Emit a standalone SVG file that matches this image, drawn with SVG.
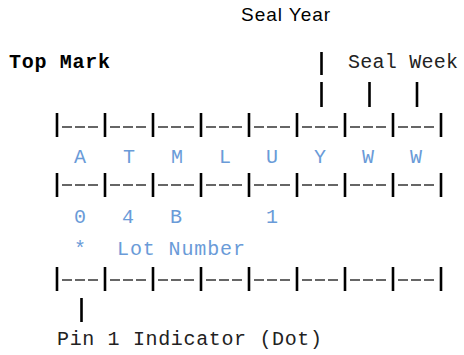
<svg xmlns="http://www.w3.org/2000/svg" width="464" height="355" viewBox="0 0 464 355">
<style>
.bar{stroke:#000;stroke-width:2.6;fill:none}
.dash{stroke:#666;stroke-width:2;stroke-dasharray:10 3;fill:none}
.mono{font-family:"Liberation Mono","DejaVu Sans Mono",monospace;font-size:20px}
.cell{fill:#6a9bd8;text-anchor:middle}
.lbl{fill:#222}
</style>
<rect width="464" height="355" fill="#fff"/>
<g id="seal-year"><text x="241" y="21" font-family="Liberation Sans, Arial, sans-serif" font-size="19" fill="#000" textLength="89">Seal Year</text></g>
<g id="top-mark"><text class="mono" x="9" y="68" font-weight="bold" fill="#000" textLength="101">Top Mark</text></g>
<g id="seal-week"><text class="mono lbl" x="348" y="68" textLength="110">Seal Week</text></g>
<g id="connectors">
<line class="bar" x1="321.5" y1="52" x2="321.5" y2="75"/>
<line class="bar" x1="321.5" y1="82" x2="321.5" y2="107"/>
<line class="bar" x1="369.5" y1="82" x2="369.5" y2="107"/>
<line class="bar" x1="417" y1="82" x2="417" y2="107"/>
<line class="bar" x1="81.5" y1="298" x2="81.5" y2="322"/>
</g>
<g id="row1">
<path class="bar" d="M57 113V137M105 113V137M153 113V137M201 113V137M249 113V137M297 113V137M345 113V137M393 113V137M441 113V137"/>
<path class="dash" d="M62 127H98M110 127H146M158 127H194M206 127H242M254 127H290M302 127H338M350 127H386M398 127H434"/>
</g>
<g id="row2">
<path class="bar" d="M57 173V197M105 173V197M153 173V197M201 173V197M249 173V197M297 173V197M345 173V197M393 173V197M441 173V197"/>
<path class="dash" d="M62 185H98M110 185H146M158 185H194M206 185H242M254 185H290M302 185H338M350 185H386M398 185H434"/>
</g>
<g id="row3">
<path class="bar" d="M57 267V291M105 267V291M153 267V291M201 267V291M249 267V291M297 267V291M345 267V291M393 267V291M441 267V291"/>
<path class="dash" d="M62 280H98M110 280H146M158 280H194M206 280H242M254 280H290M302 280H338M350 280H386M398 280H434"/>
</g>
<g id="letters">
<text class="mono cell" x="80" y="163">A</text>
<text class="mono cell" x="129" y="163">T</text>
<text class="mono cell" x="177" y="163">M</text>
<text class="mono cell" x="225" y="163">L</text>
<text class="mono cell" x="272" y="163">U</text>
<text class="mono cell" x="320" y="163">Y</text>
<text class="mono cell" x="368" y="163">W</text>
<text class="mono cell" x="416" y="163">W</text>
</g>
<g id="digits">
<text class="mono cell" x="80" y="223">0</text>
<text class="mono cell" x="128" y="223">4</text>
<text class="mono cell" x="176" y="223">B</text>
<text class="mono cell" x="272" y="223">1</text>
</g>
<g id="lot-number">
<text class="mono cell" x="80" y="255">*</text>
<text class="mono" x="117" y="255" fill="#6a9bd8" textLength="128">Lot Number</text>
</g>
<g id="pin1"><text class="mono lbl" x="57" y="345" textLength="265">Pin 1 Indicator (Dot)</text></g>
</svg>
